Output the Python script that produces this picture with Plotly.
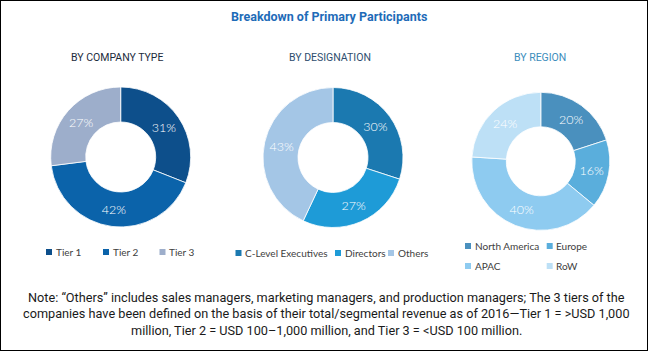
import plotly.graph_objects as go

W, H = 648, 351

title_text = "Breakdown of Primary Participants"
subtitles = ["BY COMPANY TYPE", "BY DESIGNATION", "BY REGION"]
note_lines = [
    "Note: \u201cOthers\u201d includes sales managers, marketing managers, and production managers; The 3 tiers of the",
    "companies have been defined on the basis of their total/segmental revenue as of 2016\u2014Tier 1 = >USD 1,000",
    "million, Tier 2 = USD 100\u20131,000 million, and Tier 3 = <USD 100 million.",
]

company_labels = ["Tier 1", "Tier 2", "Tier 3"]
company_values = [31, 42, 27]
company_colors = ["#0D4F8B", "#0B63AA", "#9DAECB"]

desig_labels = ["C-Level Executives", "Directors", "Others"]
desig_values = [30, 27, 43]
desig_colors = ["#1B79B0", "#1E9BD7", "#A4C6E6"]

region_labels = ["North America", "Europe", "APAC", "RoW"]
region_values = [20, 16, 40, 24]
region_colors = ["#4A90BE", "#5AAEDC", "#8ECBF0", "#BDE0F6"]

# layout (pixel) constants: donut centres / radius, legend swatch positions
donuts = [(120.7, 157, 70), (333, 157.5, 70), (540.8, 161.3, 69)]
legend_pos = [
    [(46, 252), (103, 252), (159.5, 252)],
    [(235.5, 253), (335, 253), (388, 253)],
    [(465, 246), (546.7, 246), (465, 266), (546.7, 266)],
]


def px_dom(cx, cy, r):
    return dict(x=[(cx - r) / W, (cx + r) / W], y=[1 - (cy + r) / H, 1 - (cy - r) / H])


TXT = dict(family="Lato, Roboto, sans-serif", size=12.5, color="white", weight=300)
common = dict(hole=0.5, sort=False, direction="clockwise", textposition="inside",
              insidetextorientation="horizontal", textfont=TXT, hoverinfo="label+percent",
              texttemplate="%{value}%", showlegend=False)

fig = go.Figure()
groups = [(company_labels, company_values, company_colors),
          (desig_labels, desig_values, desig_colors),
          (region_labels, region_values, region_colors)]

shapes = []
anns = []
LEGF = dict(family="Lato, Roboto, sans-serif", size=10, color="#404040")
SW = 6  # swatch size
for (labels, values, colors), (cx, cy, r), lpos in zip(groups, donuts, legend_pos):
    fig.add_trace(go.Pie(labels=labels, values=values, domain=px_dom(cx, cy, r),
                         marker=dict(colors=colors, line=dict(color="white", width=0.8)),
                         **common))
    # legend entries
    for lab, col, (lx, ly) in zip(labels, colors, lpos):
        shapes.append(dict(type="rect", xref="paper", yref="paper",
                           x0=lx / W, x1=(lx + SW) / W,
                           y0=1 - (ly + SW / 2) / H, y1=1 - (ly - SW / 2) / H,
                           fillcolor=col, line=dict(width=0)))
        anns.append(dict(text=lab, x=(lx + SW + 1.5) / W, y=1 - ly / H, xanchor="left",
                         font=LEGF))

HEAD = "Roboto, sans-serif"
anns.append(dict(text="<b>%s</b>" % title_text, x=329 / W, y=1 - 17 / H,
                 font=dict(family=HEAD, size=12.5, color="#1E6BB8")))
sub_colors = ["#1C2B3C", "#2E4D6E", "#3C8DBC"]
for t, cx, c in zip(subtitles, [117, 330, 540], sub_colors):
    anns.append(dict(text=t, x=cx / W, y=1 - 58 / H,
                     font=dict(family=HEAD, size=10.5, color=c)))
for t, cy in zip(note_lines, [297, 313, 330]):
    anns.append(dict(text=t, x=326 / W, y=1 - cy / H,
                     font=dict(family=HEAD, size=12.7, color="#1a1a1a")))
for a in anns:
    a.setdefault("xanchor", "center")
    a.update(xref="paper", yref="paper", showarrow=False, yanchor="middle")

shapes.append(dict(type="rect", xref="paper", yref="paper", x0=0, x1=1, y0=0, y1=1,
                   line=dict(color="black", width=2), fillcolor="rgba(0,0,0,0)"))

fig.update_layout(
    width=W, height=H, margin=dict(l=0, r=0, t=0, b=0, autoexpand=False),
    paper_bgcolor="white", plot_bgcolor="white", showlegend=False,
    annotations=anns, shapes=shapes,
)

fig.write_html("out.html")
